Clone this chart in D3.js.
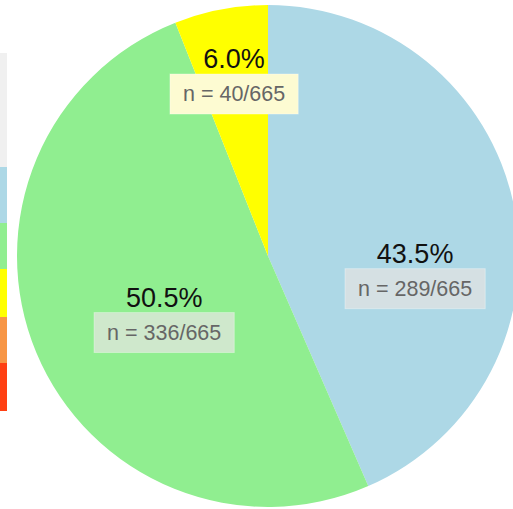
<!DOCTYPE html>
<html>
<head>
<meta charset="utf-8">
<script src="https://cdn.jsdelivr.net/npm/d3@7"></script>
<style>
  html, body { margin: 0; padding: 0; background: #fff; }
  svg { display: block; }
</style>
</head>
<body>
<svg id="chart" width="513" height="509"></svg>
<script>
// ---- data ----
const categories = ["A", "B", "C"];
const counts = [289, 336, 40];
const total = 665;
const percentLabels = ["43.5%", "50.5%", "6.0%"];
const countLabels = ["n = 289/665", "n = 336/665", "n = 40/665"];
const legendKeys = ["none", "A", "B", "C", "D", "E"];

// ---- styles ----
const sliceColors = ["#add8e6", "#90ee90", "#ffff00"];
const boxColors = ["#d5e0e3", "#cfe8cc", "#fdfbd2"];
const legendColors = ["#f0f0f0", "#add8e6", "#90ee90", "#ffff00", "#f79646", "#ff4013"];
const labelAngleShift = [24.3, -13.8, -1.0];   // degrees relative to slice mid-angle
const labelRadius = [150.7, 129, 165.5];

const W = 513, H = 509;
const cx = 268, cy = 256, R = 251;

const svg = d3.select("#chart");

// legend strip on the left
const ly = d3.scaleBand().domain(legendKeys).range([53, 411]).padding(0);
const legendHeights = [114, 56, 46, 48, 46, 48];
let yy = 53;
legendKeys.forEach((k, i) => {
  svg.append("rect")
    .attr("x", 0).attr("y", yy)
    .attr("width", 7).attr("height", legendHeights[i])
    .attr("fill", legendColors[i]);
  yy += legendHeights[i];
});

const pie = d3.pie().value(d => d).sort(null);
const arcs = pie(counts);
const arc = d3.arc().innerRadius(0).outerRadius(R);

const g = svg.append("g").attr("transform", `translate(${cx},${cy})`);

g.selectAll("path.slice")
  .data(arcs)
  .join("path")
  .attr("class", "slice")
  .attr("d", arc)
  .attr("fill", (d, i) => sliceColors[i]);

const font = "'Liberation Sans', Arial, Helvetica, sans-serif";

arcs.forEach((d, i) => {
  const mid = (d.startAngle + d.endAngle) / 2 + labelAngleShift[i] * Math.PI / 180;
  const bx = labelRadius[i] * Math.sin(mid);
  const by = -labelRadius[i] * Math.cos(mid);
  const lg = g.append("g").attr("transform", `translate(${bx},${by})`);

  const boxH = 40;
  const rect = lg.append("rect")
    .attr("fill", boxColors[i])
    .attr("stroke", "rgba(255,255,255,0.35)")
    .attr("stroke-width", 1);
  const nt = lg.append("text")
    .attr("text-anchor", "middle")
    .attr("x", 0)
    .attr("y", -boxH / 2 + 27)
    .attr("font-family", font)
    .attr("font-size", 21.5)
    .attr("fill", "#666")
    .text(countLabels[i]);
  const tw = nt.node().getComputedTextLength();
  const bw = tw + 26;
  rect.attr("x", -bw / 2).attr("y", -boxH / 2)
    .attr("width", bw).attr("height", boxH);

  lg.append("text")
    .attr("text-anchor", "middle")
    .attr("x", 0)
    .attr("y", -boxH / 2 - 6)
    .attr("font-family", font)
    .attr("font-size", 27)
    .attr("fill", "#111")
    .text(percentLabels[i]);
});
</script>
</body>
</html>
